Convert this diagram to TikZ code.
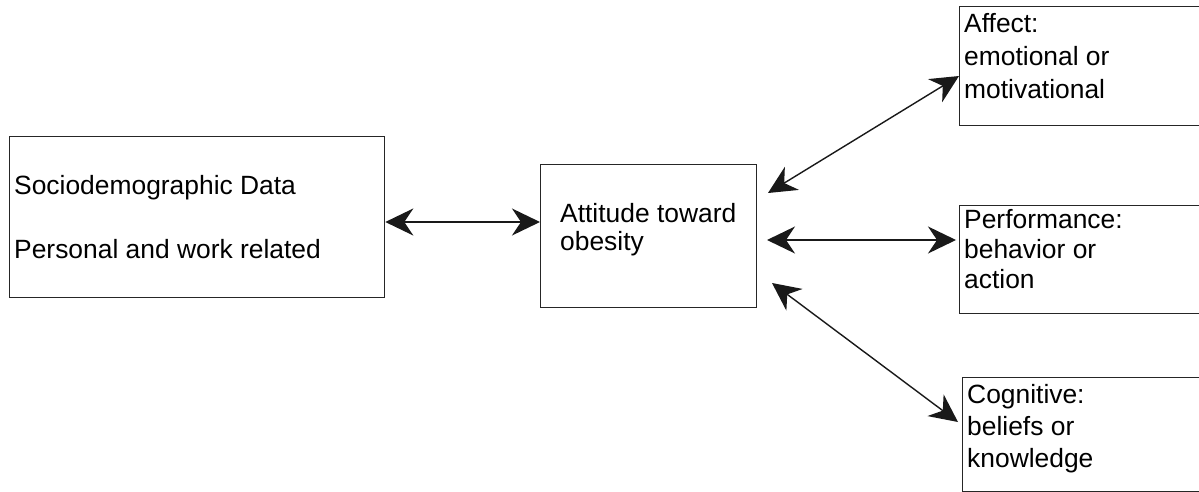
\documentclass[tikz,border=0pt]{standalone}
\usepackage{fontspec}
\setmainfont{Liberation Sans}
\usetikzlibrary{arrows.meta,calc}
\begin{document}
\begin{tikzpicture}[x=1pt,y=-1pt,
  box/.style={draw=black!85, line width=1.3pt, inner sep=0pt, anchor=north west},
  lbl/.style={anchor=base west, inner sep=0pt, align=left},
  dbl/.style={line width=1.4pt, draw=black!90,
    {Stealth[length=28pt,width=27pt,inset=9pt]}-{Stealth[length=28pt,width=27pt,inset=9pt]}}]
\clip (0,0) rectangle (1199,492);
\fill[white] (0,0) rectangle (1199,492);
% boxes
\node[box, minimum width=375pt, minimum height=161pt] (left) at (9,136) {};
\node[box, minimum width=216pt, minimum height=143pt] (mid) at (540,164) {};
\node[box, minimum width=260pt, minimum height=119pt] (affect) at (959,6) {};
\node[box, minimum width=260pt, minimum height=108pt] (perf) at (959,205) {};
\node[box, minimum width=260pt, minimum height=114pt] (cog) at (962,377) {};
% texts (anchored at the baseline of their last line)
\node[lbl, font=\fontsize{26.4}{30}\selectfont] (tleft) at (14,258) {Sociodemographic Data\\[34pt]Personal and work related};
\node[lbl, font=\fontsize{26.4}{28}\selectfont] (tmid) at (560,250) {Attitude toward\\obesity};
\node[lbl, font=\fontsize{26.4}{33}\selectfont] (taffect) at (964,99) {Affect:\\emotional or\\motivational};
\node[lbl, font=\fontsize{26.4}{30}\selectfont] (tperf) at (964,288) {Performance:\\behavior or\\action};
\node[lbl, font=\fontsize{26.4}{32}\selectfont] (tcog) at (967,467) {Cognitive:\\beliefs or\\knowledge};
% arrow positions
\coordinate (y1) at (0,222);
\coordinate (e1) at (768,193);
\coordinate (e2) at (767,240);
\coordinate (e3) at (772,283);
\coordinate (f1) at (0,76);
\coordinate (f2) at (0,240);
\coordinate (f3) at (0,425);
% connectors
\draw[dbl] (left.east |- y1) -- (mid.west |- y1);
\draw[dbl] (e1) -- (affect.west |- f1);
\draw[dbl, shorten >=3pt] (e2) -- (perf.west |- f2);
\draw[dbl, shorten >=5pt] (e3) -- (cog.west |- f3);
\end{tikzpicture}
\end{document}
